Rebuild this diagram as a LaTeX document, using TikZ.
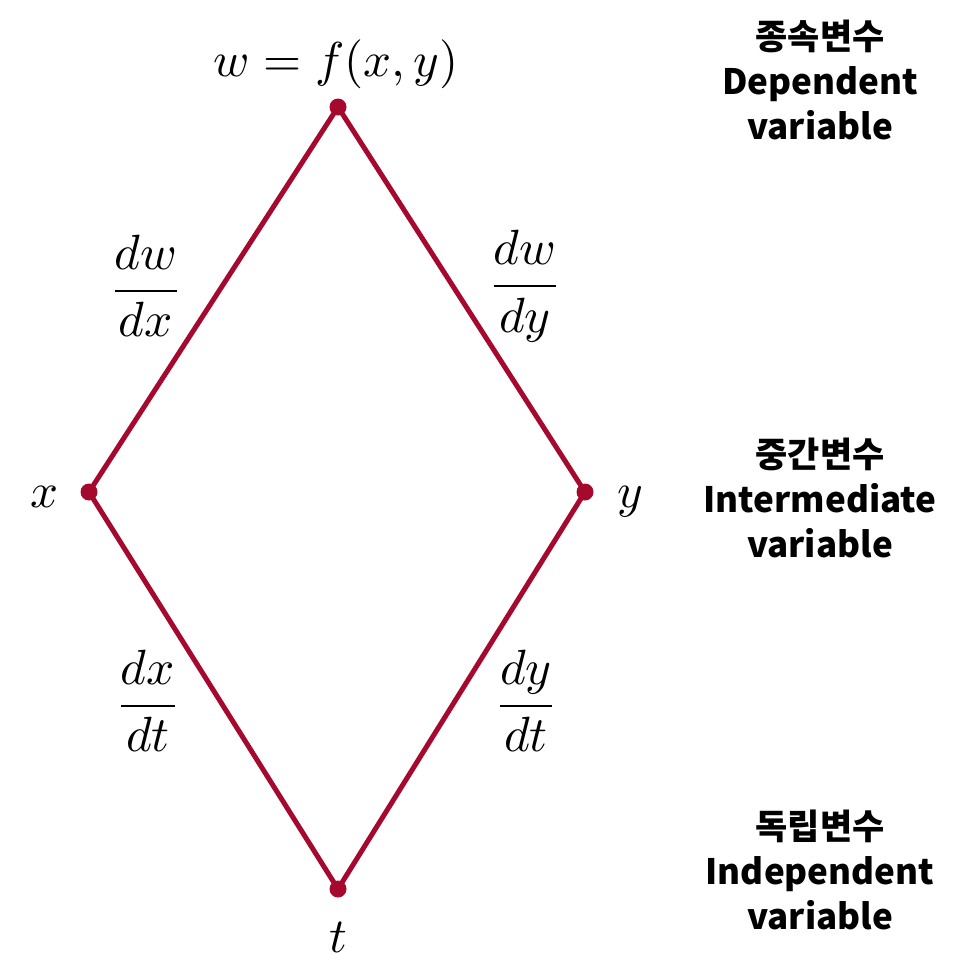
\documentclass[tikz,border=0pt]{standalone}
\usepackage{fontspec}
\newfontfamily\kr{Noto Sans CJK KR}
\definecolor{edgered}{HTML}{A50A2E}
\newcommand{\mybigm}[1]{\scalebox{4.9}{$#1$}}
\newcommand{\mybigf}[1]{\scalebox{4.95}{$\displaystyle#1$}}
\begin{document}
\begin{tikzpicture}[x=1pt,y=-1pt,
  edge/.style={draw=edgered,line width=5pt,line join=round},
  dot/.style={circle,fill=edgered,inner sep=0pt,minimum size=17pt},
  mlabel/.style={inner sep=0pt},
  side/.style={font=\kr\bfseries\fontsize{35}{45}\selectfont,align=center,inner sep=0pt}]
\useasboundingbox (0,0) rectangle (970,970);
\node[dot] (w) at (338,107) {};
\node[dot] (x) at (89,492) {};
\node[dot] (y) at (585,492) {};
\node[dot] (t) at (338,889) {};
\draw[edge] (w.center) -- (x.center) -- (t.center) -- (y.center) -- cycle;
\node[mlabel] (wl) at (336,64) {\mybigm{w=f(x,y)}};
\node[mlabel] (xl) at (45,497) {\mybigm{x}};
\node[mlabel] (yl) at (630,502) {\mybigm{y}};
\node[mlabel] (tl) at (338,937) {\mybigm{t}};
\node[mlabel] (f1) at (146,286) {\mybigf{\frac{dw}{dx}}};
\node[mlabel] (f2) at (525,286) {\mybigf{\frac{dw}{dy}}};
\node[mlabel] (f3) at (148,701) {\mybigf{\frac{dx}{dt}}};
\node[mlabel] (f4) at (526,701) {\mybigf{\frac{dy}{dt}}};
\node[side] (s1) at (820,80) {종속변수\\Dependent\\variable};
\node[side] (s2) at (820,498) {중간변수\\Intermediate\\variable};
\node[side] (s3) at (820,870) {독립변수\\Independent\\variable};
\end{tikzpicture}
\end{document}
